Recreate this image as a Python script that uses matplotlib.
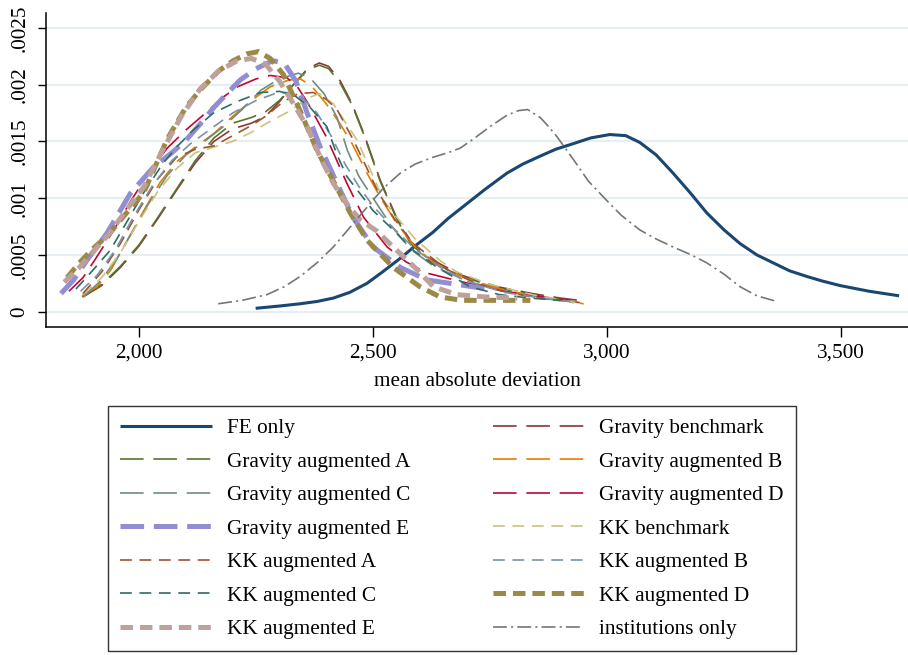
import numpy as np
import matplotlib
matplotlib.use("Agg")
import matplotlib.pyplot as plt
from matplotlib.ticker import FuncFormatter

plt.rcParams['font.family'] = ['Liberation Serif', 'DejaVu Serif']
plt.rcParams['lines.scale_dashes'] = False

FS = 15.3

# ---- data (x = mean absolute deviation, y = density)
fe_x = [2249, 2300, 2344, 2380, 2415, 2450, 2487, 2520, 2558, 2590, 2628, 2660, 2700, 2740, 2786, 2820, 2857, 2890,
        2928, 2965, 3006, 3040, 3070, 3105, 3141, 3177, 3213, 3250, 3284, 3320, 3355, 3390, 3427, 3460, 3498, 3560,
        3624]
fe_y = [0.00003, 0.00005, 0.00007, 0.00009, 0.00012, 0.00017, 0.00025, 0.00035, 0.00047, 0.00058, 0.00070, 0.00082,
        0.00095, 0.00108, 0.00122, 0.00130, 0.00137, 0.00143, 0.00148, 0.00153, 0.00156, 0.00155, 0.00149, 0.00138,
        0.00122, 0.00105, 0.00087, 0.00072, 0.00060, 0.00050, 0.00043, 0.00036, 0.00031, 0.00027, 0.00023, 0.00018,
        0.00014]

gb_x = [1880, 1920, 1960, 2000, 2040, 2080, 2120, 2160, 2200, 2240, 2270, 2300, 2330, 2360, 2385, 2405, 2430, 2455,
        2480, 2515, 2550, 2580, 2620, 2690, 2765, 2840, 2900, 2940]
gb_y = [0.00013, 0.00023, 0.00039, 0.00058, 0.00082, 0.00107, 0.00131, 0.00150, 0.00161, 0.00166, 0.00172, 0.00185,
        0.00200, 0.00214, 0.00219, 0.00216, 0.00203, 0.00183, 0.00157, 0.00116, 0.00083, 0.00062, 0.00047, 0.00032,
        0.00022, 0.00016, 0.00012, 0.00010]

ga_x = [1878, 1920, 1960, 2000, 2040, 2080, 2120, 2160, 2200, 2240, 2270, 2300, 2330, 2360, 2385, 2405, 2430, 2455,
        2480, 2515, 2550, 2580, 2620, 2690, 2765, 2840, 2900, 2940]
ga_y = [0.00013, 0.00024, 0.00040, 0.00059, 0.00083, 0.00108, 0.00133, 0.00153, 0.00166, 0.00171, 0.00176, 0.00186,
        0.00200, 0.00213, 0.00217, 0.00214, 0.00201, 0.00182, 0.00156, 0.00115, 0.00082, 0.00060, 0.00045, 0.00031,
        0.00021, 0.00015, 0.00011, 0.00008]

gbb_x = [1878, 1910, 1940, 1975, 2010, 2045, 2080, 2120, 2160, 2200, 2240, 2280, 2320, 2345, 2370, 2400, 2430, 2455,
         2487, 2515, 2550, 2590, 2630, 2700, 2780, 2860, 2920, 2950]
gbb_y = [0.00014, 0.00022, 0.00037, 0.00063, 0.00089, 0.00114, 0.00132, 0.00145, 0.00157, 0.00172, 0.00186, 0.00198,
         0.00204, 0.00205, 0.00198, 0.00183, 0.00165, 0.00148, 0.00122, 0.00101, 0.00078, 0.00057, 0.00043, 0.00029,
         0.00019, 0.00013, 0.00009, 0.00007]

gc_x = [1880, 1915, 1950, 1985, 2020, 2060, 2100, 2140, 2180, 2220, 2260, 2300, 2340, 2365, 2395, 2423, 2445, 2470,
        2500, 2540, 2580, 2630, 2700, 2780, 2860, 2930]
gc_y = [0.00013, 0.00026, 0.00045, 0.00070, 0.00095, 0.00120, 0.00138, 0.00150, 0.00163, 0.00178, 0.00195, 0.00205,
        0.00210, 0.00206, 0.00192, 0.00171, 0.00142, 0.00119, 0.00100, 0.00075, 0.00055, 0.00040, 0.00027, 0.00018,
        0.00012, 0.00008]

gd_x = [1850, 1880, 1906, 1940, 1980, 2020, 2060, 2100, 2145, 2180, 2210, 2250, 2280, 2316, 2340, 2360, 2400, 2444,
        2480, 2530, 2570, 2615, 2693, 2780, 2863, 2920]
gd_y = [0.00018, 0.00030, 0.00046, 0.00068, 0.00096, 0.00122, 0.00144, 0.00160, 0.00176, 0.00189, 0.00198, 0.00205,
        0.00208, 0.00206, 0.00197, 0.00184, 0.00154, 0.00113, 0.00083, 0.00057, 0.00044, 0.00034, 0.00026, 0.00018,
        0.00013, 0.00010]

ge_x = [1833, 1860, 1888, 1931, 1981, 2030, 2070, 2100, 2130, 2160, 2190, 2216, 2250, 2285, 2310, 2335, 2359, 2387,
        2423, 2457, 2500, 2558, 2615, 2680, 2729, 2750]
ge_y = [0.00016, 0.00028, 0.00045, 0.00069, 0.00104, 0.00127, 0.00140, 0.00151, 0.00165, 0.00180, 0.00193, 0.00204,
        0.00214, 0.00221, 0.00219, 0.00203, 0.00175, 0.00145, 0.00113, 0.00083, 0.00057, 0.00039, 0.00028, 0.00024,
        0.00021, 0.00020]

kb_x = [1880, 1920, 1960, 2000, 2040, 2080, 2120, 2160, 2200, 2240, 2273, 2323, 2360, 2385, 2415, 2437, 2466, 2495,
        2522, 2551, 2590, 2643, 2679, 2750, 2850, 2949]
kb_y = [0.00015, 0.00030, 0.00052, 0.00080, 0.00106, 0.00126, 0.00140, 0.00145, 0.00150, 0.00158, 0.00166, 0.00177,
        0.00188, 0.00192, 0.00183, 0.00169, 0.00151, 0.00124, 0.00098, 0.00083, 0.00064, 0.00045, 0.00035, 0.00024,
        0.00014, 0.00007]

ka_x = [1880, 1920, 1960, 2000, 2040, 2080, 2120, 2160, 2200, 2240, 2270, 2308, 2340, 2372, 2400, 2423, 2458, 2479,
        2510, 2545, 2586, 2658, 2710, 2765, 2850, 2942]
ka_y = [0.00016, 0.00035, 0.00060, 0.00090, 0.00117, 0.00136, 0.00143, 0.00146, 0.00155, 0.00164, 0.00172, 0.00185,
        0.00192, 0.00193, 0.00187, 0.00178, 0.00151, 0.00133, 0.00106, 0.00082, 0.00060, 0.00037, 0.00027, 0.00019,
        0.00012, 0.00008]

kbb_x = [1875, 1910, 1950, 1990, 2030, 2070, 2110, 2150, 2200, 2250, 2290, 2320, 2350, 2380, 2410, 2440, 2470, 2500,
         2540, 2590, 2640, 2700, 2780, 2860, 2920]
kbb_y = [0.00018, 0.00032, 0.00055, 0.00085, 0.00112, 0.00133, 0.00148, 0.00160, 0.00175, 0.00186, 0.00192, 0.00193,
         0.00188, 0.00175, 0.00155, 0.00130, 0.00110, 0.00093, 0.00075, 0.00055, 0.00040, 0.00027, 0.00017, 0.00012,
         0.00009]

kc_x = [1865, 1900, 1938, 1975, 2010, 2050, 2080, 2116, 2159, 2209, 2260, 2300, 2330, 2365, 2401, 2423, 2444, 2472,
        2500, 2543, 2586, 2637, 2707, 2770, 2836, 2900]
kc_y = [0.00020, 0.00036, 0.00054, 0.00080, 0.00105, 0.00130, 0.00145, 0.00160, 0.00175, 0.00185, 0.00193, 0.00194,
        0.00191, 0.00180, 0.00163, 0.00138, 0.00119, 0.00104, 0.00089, 0.00072, 0.00054, 0.00039, 0.00022, 0.00015,
        0.00012, 0.00010]

kd_x = [1846, 1870, 1900, 1935, 1965, 2010, 2060, 2100, 2130, 2170, 2201, 2230, 2255, 2280, 2308, 2344, 2380, 2415,
        2451, 2487, 2543, 2600, 2643, 2690, 2760, 2836]
kd_y = [0.00030, 0.00042, 0.00055, 0.00068, 0.00083, 0.00105, 0.00152, 0.00180, 0.00195, 0.00212, 0.00221, 0.00227,
        0.00229, 0.00223, 0.00209, 0.00177, 0.00142, 0.00115, 0.00087, 0.00063, 0.00039, 0.00022, 0.00013, 0.00010,
        0.00010, 0.00010]

ke_x = [1840, 1870, 1900, 1935, 1970, 2010, 2050, 2090, 2130, 2170, 2210, 2240, 2270, 2300, 2330, 2359, 2387, 2415,
        2444, 2472, 2508, 2543, 2594, 2629, 2679, 2740, 2808]
ke_y = [0.00026, 0.00038, 0.00052, 0.00068, 0.00088, 0.00110, 0.00142, 0.00172, 0.00196, 0.00212, 0.00221, 0.00223,
        0.00218, 0.00203, 0.00183, 0.00163, 0.00136, 0.00113, 0.00095, 0.00081, 0.00071, 0.00057, 0.00037, 0.00022,
        0.00015, 0.00013, 0.00012]

in_x = [2169, 2220, 2273, 2310, 2344, 2380, 2415, 2450, 2487, 2520, 2558, 2590, 2628, 2660, 2686, 2714, 2750, 2786,
        2810, 2830, 2857, 2875, 2893, 2928, 2960, 2999, 3030, 3070, 3105, 3141, 3180, 3213, 3250, 3284, 3320, 3363]
in_y = [0.00007, 0.00010, 0.00015, 0.00022, 0.00031, 0.00043, 0.00057, 0.00074, 0.00092, 0.00108, 0.00122, 0.00130,
        0.00136, 0.00140, 0.00144, 0.00152, 0.00163, 0.00173, 0.00177, 0.00178, 0.00171, 0.00163, 0.00154, 0.00134,
        0.00115, 0.00098, 0.00085, 0.00072, 0.00064, 0.00057, 0.00050, 0.00043, 0.00033, 0.00022, 0.00014, 0.00009]

labels = ["FE only", "Gravity benchmark", "Gravity augmented A", "Gravity augmented B", "Gravity augmented C",
          "Gravity augmented D", "Gravity augmented E", "KK benchmark", "KK augmented A", "KK augmented B",
          "KK augmented C", "KK augmented D", "KK augmented E", "institutions only"]
colors = ["#1a476f", "#90353b", "#55752f", "#e37e00", "#6e8e84", "#c10534", "#938dd2", "#cac27e", "#a0522d",
          "#7b92a8", "#2d6d66", "#9c8847", "#bfa19c", "#767676"]
series = [(fe_x, fe_y), (gb_x, gb_y), (ga_x, ga_y), (gbb_x, gbb_y), (gc_x, gc_y), (gd_x, gd_y), (ge_x, ge_y),
          (kb_x, kb_y), (ka_x, ka_y), (kbb_x, kbb_y), (kc_x, kc_y), (kd_x, kd_y), (ke_x, ke_y), (in_x, in_y)]

longdash = (0, (17, 7))
shortdash = (0, (8.5, 5.5))
dashdot = (0, (10, 3, 1.5, 3))
styles = [('-', 2.2), (longdash, 1.2), (longdash, 1.2), (longdash, 1.2), (longdash, 1.2), (longdash, 1.2),
          (longdash, 3.6), (shortdash, 1.2), (shortdash, 1.2), (shortdash, 1.2), (shortdash, 1.2),
          ((0, (9, 5)), 3.6), ((0, (9, 5)), 3.6), (dashdot, 1.2)]

fig = plt.figure(figsize=(9.08, 6.55), dpi=100)
ax = fig.add_axes([46 / 908, 1 - 326.7 / 655, 1 - 46 / 908, (326.7 - 13) / 655])

handles = []
for (x, y), lab, c, (ls, lw) in zip(series, labels, colors, styles):
    h, = ax.plot(x, y, color=c, linestyle=ls, linewidth=lw, label=lab, solid_capstyle='butt',
                 dash_capstyle='butt', solid_joinstyle='round')
    handles.append(h)

ax.set_xlim(1801, 3643)
ax.set_ylim(-0.000132, 0.00263)
ax.set_xticks([2000, 2500, 3000, 3500])
ax.xaxis.set_major_formatter(FuncFormatter(lambda v, p: f"{int(v):,}"))
ax.set_yticks([0, 0.0005, 0.001, 0.0015, 0.002, 0.0025])
ax.set_yticklabels(["0", ".0005", ".001", ".0015", ".002", ".0025"], rotation=90, va='center')
ax.tick_params(axis='both', labelsize=FS, direction='out', width=1, color='black')
ax.tick_params(axis='x', length=7, pad=5)
ax.tick_params(axis='y', length=6, pad=6)
ax.yaxis.grid(True, color='#e6eef1', linewidth=1.6)
ax.set_axisbelow(True)
for s in ['top', 'right']:
    ax.spines[s].set_visible(False)
for s in ['left', 'bottom']:
    ax.spines[s].set_linewidth(1.1)
ax.set_xlabel("mean absolute deviation", fontsize=FS, labelpad=7)

# legend: Stata fills row-wise, matplotlib column-wise
order = list(range(0, 14, 2)) + list(range(1, 14, 2))
leg = fig.legend([handles[i] for i in order], [labels[i] for i in order], ncol=2,
                 loc='upper left', bbox_to_anchor=(108 / 908, 1 - 406 / 655),
                 fontsize=FS, frameon=True, fancybox=False, edgecolor='black',
                 handlelength=4.3, handletextpad=0.7, columnspacing=3.9,
                 labelspacing=0.64, borderpad=0.58, borderaxespad=0)
leg.get_frame().set_linewidth(1.0)

fig.savefig("out.png", dpi=100)
